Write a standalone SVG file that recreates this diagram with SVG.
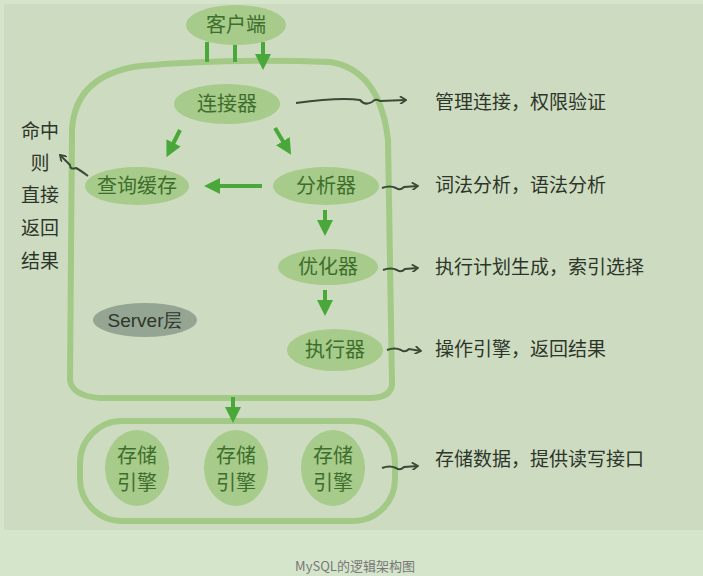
<svg xmlns="http://www.w3.org/2000/svg" width="703" height="576" viewBox="0 0 703 576">
<style>
.n{fill:#a6cb8a}
.t{font-family:"Noto Sans CJK SC","Liberation Sans",sans-serif;fill:#3e6e2c;font-size:20px;text-anchor:middle}
.l{font-family:"Noto Sans CJK SC",sans-serif;fill:#2e352b;font-size:19px}
.a{stroke:#4aa83a;stroke-width:4;fill:none}
.s{stroke:#3a4a35;stroke-width:2;fill:none}
.box{stroke:#a2c985;stroke-width:6;fill:none}
</style>
<defs>
<marker id="ah" markerWidth="4" markerHeight="4" refX="2" refY="2" orient="auto" markerUnits="strokeWidth"><path d="M0,0L4,2L0,4z" fill="#4aa83a"/></marker>
<marker id="sh" markerWidth="8" markerHeight="8" refX="7" refY="4" orient="auto" markerUnits="userSpaceOnUse"><path d="M1,0L7,4L1,8" fill="none" stroke="#3a4a35" stroke-width="1.8"/></marker>
</defs>
<rect width="703" height="576" fill="#d5e5cb"/>
<rect x="4" y="4" width="699" height="526" fill="#cddcc0"/>
<text x="355" y="571" font-family="Noto Sans CJK SC,sans-serif" font-size="13" fill="#777" text-anchor="middle">MySQL的逻辑架构图</text>
<path class="box" d="M70,380 L72,130 Q75,75 140,66 Q230,58 330,62 Q380,70 388,140 L392,385 Q390,398 370,398 L100,398 Q72,396 70,380Z"/>
<rect class="box" x="80" y="421" width="315" height="100" rx="42"/>
<g id="connectors">
<path class="a" marker-end="url(#ah)" d="M207,42V62M235,42V62M263,42V62"/>
<path class="a" marker-end="url(#ah)" d="M180,130L170,150"/>
<path class="a" marker-end="url(#ah)" d="M275,128L287,148"/>
<path class="a" marker-end="url(#ah)" d="M262,186L212,186"/>
<path class="a" marker-end="url(#ah)" d="M325,210V228"/>
<path class="a" marker-end="url(#ah)" d="M325,290V308"/>
<path class="a" marker-end="url(#ah)" d="M233,397V415"/>
<path class="s" marker-end="url(#sh)" d="M296,103Q340,97 360,100q5,6 12,2q3,-4 8,-1L406,100"/>
<path class="s" marker-end="url(#sh)" d="M382,188q8,-3 14,0q4,3 8,-1L418,186"/>
<path class="s" marker-end="url(#sh)" d="M383,270q8,-3 14,0q4,3 8,-1L418,268"/>
<path class="s" marker-end="url(#sh)" d="M387,350q8,-3 14,0q4,3 8,-1L421,351"/>
<path class="s" marker-end="url(#sh)" d="M382,468q8,-3 14,0q4,3 8,-1L418,466"/>
<path class="s" marker-end="url(#sh)" d="M88,176q-8,-6 -12,-8q-6,2 -6,-3L60,155"/>
</g>
<g id="client"><ellipse class="n" cx="236" cy="25" rx="50" ry="20"/><text class="t" x="236" y="32">客户端</text></g>
<g id="connector"><ellipse class="n" cx="227" cy="104" rx="53" ry="20"/><text class="t" x="227" y="111">连接器</text></g>
<g id="cache"><ellipse class="n" cx="137" cy="186" rx="52" ry="19"/><text class="t" x="137" y="193">查询缓存</text></g>
<g id="parser"><ellipse class="n" cx="326" cy="186" rx="53" ry="19"/><text class="t" x="326" y="193">分析器</text></g>
<g id="optimizer"><ellipse class="n" cx="328" cy="267" rx="50" ry="18"/><text class="t" x="328" y="274">优化器</text></g>
<g id="executor"><ellipse class="n" cx="335" cy="350" rx="48" ry="21"/><text class="t" x="335" y="357">执行器</text></g>
<g id="server"><ellipse cx="145" cy="320" rx="52" ry="17" fill="#95a593"/><text x="145" y="327" font-family="Liberation Sans,sans-serif" font-size="19" fill="#2e352b" text-anchor="middle">Server层</text></g>
<g id="e1"><ellipse class="n" cx="137" cy="468" rx="32" ry="38"/><text class="t" x="137" y="463" font-size="18">存储</text><text class="t" x="137" y="490" font-size="18">引擎</text></g>
<g id="e2"><ellipse class="n" cx="236" cy="468" rx="32" ry="38"/><text class="t" x="236" y="463" font-size="18">存储</text><text class="t" x="236" y="490" font-size="18">引擎</text></g>
<g id="e3"><ellipse class="n" cx="333" cy="468" rx="32" ry="38"/><text class="t" x="333" y="463" font-size="18">存储</text><text class="t" x="333" y="490" font-size="18">引擎</text></g>
<g id="labels">
<text class="l" x="435" y="109">管理连接，权限验证</text>
<text class="l" x="435" y="192">词法分析，语法分析</text>
<text class="l" x="435" y="274">执行计划生成，索引选择</text>
<text class="l" x="435" y="356">操作引擎，返回结果</text>
<text class="l" x="435" y="466">存储数据，提供读写接口</text>
<g text-anchor="middle"><text class="l" x="40" y="138">命中</text><text class="l" x="40" y="170">则</text><text class="l" x="40" y="202">直接</text><text class="l" x="40" y="235">返回</text><text class="l" x="40" y="268">结果</text></g>
</g>
</svg>
